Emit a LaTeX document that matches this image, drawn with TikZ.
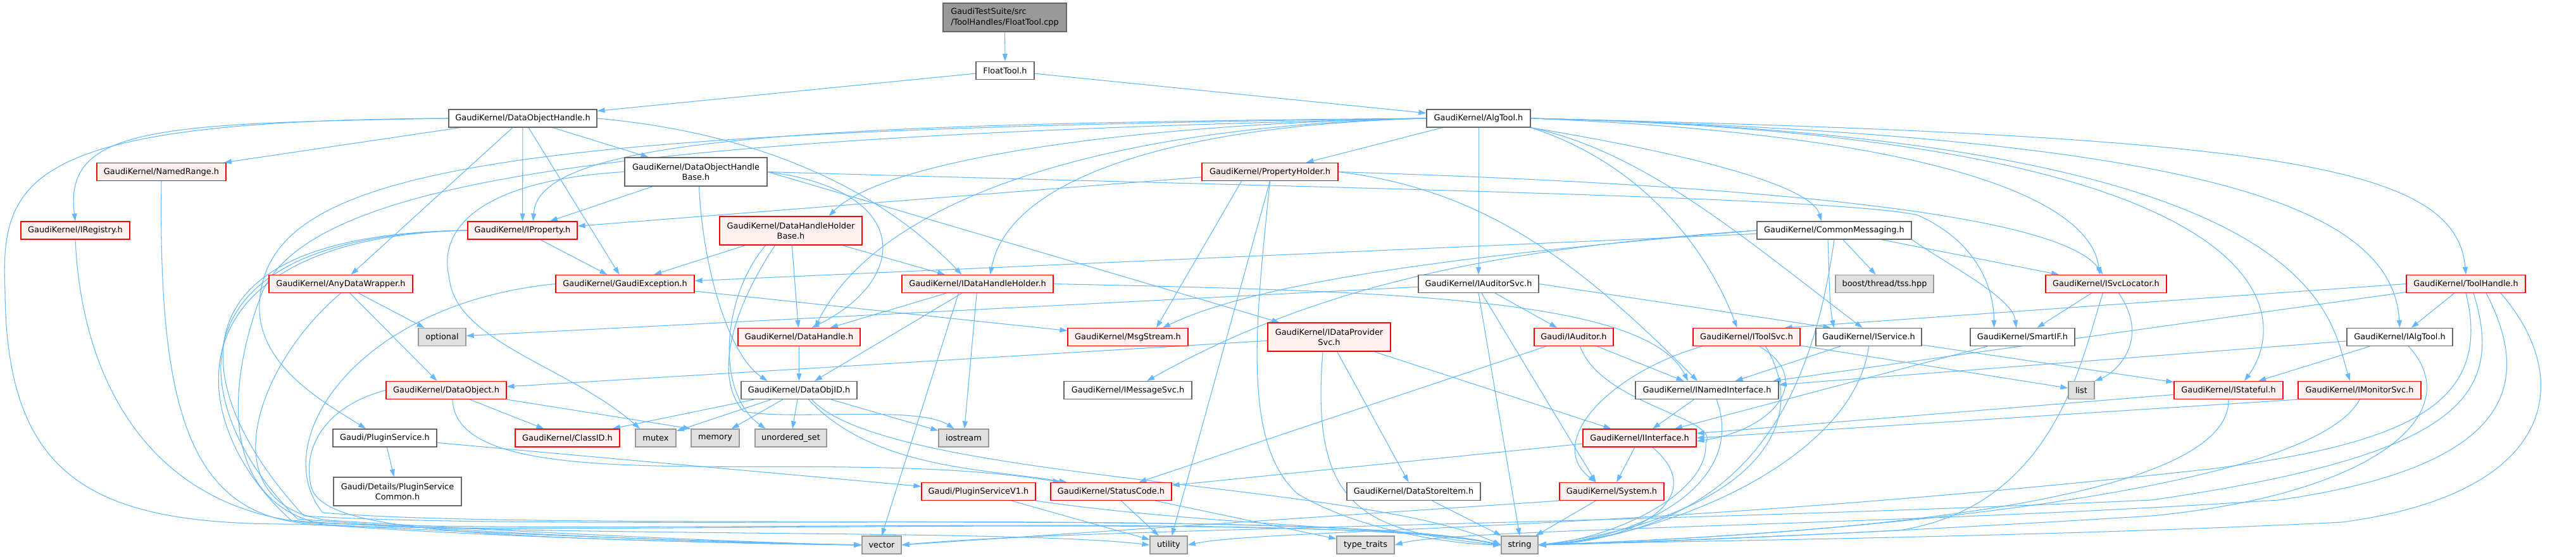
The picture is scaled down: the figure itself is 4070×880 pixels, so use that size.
\documentclass[tikz,border=0pt]{standalone}
\usepackage{fontspec}
\setmainfont{DejaVu Sans}
\usetikzlibrary{arrows.meta}
\definecolor{edgec}{RGB}{99,184,255}
\definecolor{redfill}{RGB}{255,240,240}
\definecolor{grayfill}{RGB}{224,224,224}
\definecolor{grayline}{RGB}{153,153,153}
\definecolor{darkline}{RGB}{102,102,102}
\definecolor{rootfill}{RGB}{153,153,153}
\pgfdeclarelayer{bglayer}
\pgfdeclarelayer{edgelayer}
\pgfsetlayers{bglayer,edgelayer,main}
\begin{document}
\begin{tikzpicture}[x=1pt,y=-1pt,
  box/.style={draw, line width=1.3pt, inner sep=0pt, align=center, font=\fontsize{12.9}{16.6}\selectfont, minimum height=28pt},
  wbox/.style={box, draw=darkline, fill=white},
  rbox/.style={box, draw=red, fill=redfill},
  gbox/.style={box, draw=grayline, fill=grayfill},
  rootbox/.style={box, draw=darkline, fill=rootfill},
  tall/.style={minimum height=45pt},
  e/.style={draw=edgec, line width=1.05pt, -{Triangle[length=12pt,width=8pt]}},
]
\useasboundingbox (0,0) rectangle (4070,880);
\begin{pgfonlayer}{bglayer}
\fill[white] (0,0) rectangle (4070,880);
\end{pgfonlayer}

% ---------------- nodes
\node[rootbox, tall, minimum width=195pt, align=left] (cpp) at (1587.5,27.5) {GaudiTestSuite/src\\/ToolHandles/FloatTool.cpp};
\node[wbox, minimum width=92pt] (floattool) at (1588,111.5) {FloatTool.h};
\node[wbox, minimum width=234pt] (doh) at (826,187) {GaudiKernel/DataObjectHandle.h};
\node[wbox, minimum width=164pt] (algtool) at (2336,187) {GaudiKernel/AlgTool.h};
\node[rbox, minimum width=204pt] (namedrange) at (255,271.5) {GaudiKernel/NamedRange.h};
\node[wbox, tall, minimum width=225pt] (dohb) at (1099.5,271.5) {GaudiKernel/DataObjectHandle\\Base.h};
\node[rbox, minimum width=215pt] (propholder) at (2006.5,271.5) {GaudiKernel/PropertyHolder.h};
\node[rbox, minimum width=172pt] (iregistry) at (119,364) {GaudiKernel/IRegistry.h};
\node[rbox, minimum width=173pt] (iproperty) at (825.5,364) {GaudiKernel/IProperty.h};
\node[rbox, tall, minimum width=225pt] (dhhb) at (1249.5,364.5) {GaudiKernel/DataHandleHolder\\Base.h};
\node[wbox, minimum width=244pt] (commsg) at (2898,364) {GaudiKernel/CommonMessaging.h};
\node[rbox, minimum width=227pt] (anydw) at (538.5,448.5) {GaudiKernel/AnyDataWrapper.h};
\node[rbox, minimum width=219pt] (gexc) at (987.5,448.5) {GaudiKernel/GaudiException.h};
\node[rbox, minimum width=239pt] (idhh) at (1544.5,448.5) {GaudiKernel/IDataHandleHolder.h};
\node[wbox, minimum width=190pt] (iauditorsvc) at (2336,448.5) {GaudiKernel/IAuditorSvc.h};
\node[gbox, minimum width=155pt] (tss) at (2977.5,448.5) {boost/thread/tss.hpp};
\node[rbox, minimum width=191pt] (isvcloc) at (3327.5,448.5) {GaudiKernel/ISvcLocator.h};
\node[rbox, minimum width=188pt] (toolhandle) at (3896,448.5) {GaudiKernel/ToolHandle.h};
\node[gbox, minimum width=75pt] (optional) at (698.5,532.5) {optional};
\node[rbox, minimum width=193pt] (datahandle) at (1262.5,532.5) {GaudiKernel/DataHandle.h};
\node[rbox, minimum width=190pt] (msgstream) at (1782,532.5) {GaudiKernel/MsgStream.h};
\node[rbox, tall, minimum width=194pt] (idps) at (2100,532.5) {GaudiKernel/IDataProvider\\Svc.h};
\node[rbox, minimum width=125pt] (iauditor) at (2486.5,532.5) {Gaudi/IAuditor.h};
\node[rbox, minimum width=169pt] (itoolsvc) at (2759.5,532.5) {GaudiKernel/IToolSvc.h};
\node[wbox, minimum width=167pt] (iservice) at (2952.5,532.5) {GaudiKernel/IService.h};
\node[wbox, minimum width=165pt] (smartif) at (3195.5,532.5) {GaudiKernel/SmartIF.h};
\node[wbox, minimum width=167pt] (ialgtool) at (3791.5,532.5) {GaudiKernel/IAlgTool.h};
\node[rbox, minimum width=190pt] (dataobject) at (705,616.5) {GaudiKernel/DataObject.h};
\node[wbox, minimum width=183pt] (dataobjid) at (1262.5,616.5) {GaudiKernel/DataObjID.h};
\node[wbox, minimum width=202pt] (imsgsvc) at (1782,616.5) {GaudiKernel/IMessageSvc.h};
\node[wbox, minimum width=226pt] (inamed) at (2697,616.5) {GaudiKernel/INamedInterface.h};
\node[gbox, minimum width=41pt] (list) at (3288.5,616.5) {list};
\node[rbox, minimum width=172pt] (istateful) at (3521,616.5) {GaudiKernel/IStateful.h};
\node[rbox, minimum width=194pt] (imonitorsvc) at (3728,616.5) {GaudiKernel/IMonitorSvc.h};
\node[wbox, minimum width=164pt] (pluginsvc) at (608,692) {Gaudi/PluginService.h};
\node[rbox, minimum width=165pt] (classid) at (896.5,692) {GaudiKernel/ClassID.h};
\node[gbox, minimum width=64pt] (mutex) at (1036,692) {mutex};
\node[gbox, minimum width=76pt] (memory) at (1130,692) {memory};
\node[gbox, minimum width=113pt] (unorderedset) at (1249.5,692) {unordered\_set};
\node[gbox, minimum width=79pt] (iostream) at (1522.5,692) {iostream};
\node[rbox, minimum width=179pt] (iinterface) at (2590.5,692) {GaudiKernel/IInterface.h};
\node[wbox, tall, minimum width=202pt] (pscommon) at (628,776.5) {Gaudi/Details/PluginService\\Common.h};
\node[rbox, minimum width=180pt] (psv1) at (1546,776.5) {Gaudi/PluginServiceV1.h};
\node[rbox, minimum width=191pt] (statuscode) at (1755.5,776.5) {GaudiKernel/StatusCode.h};
\node[wbox, minimum width=211pt] (datastoreitem) at (2233.5,776.5) {GaudiKernel/DataStoreItem.h};
\node[rbox, minimum width=165pt] (system) at (2546.5,776.5) {GaudiKernel/System.h};
\node[gbox, minimum width=62pt] (vector) at (1393,861) {vector};
\node[gbox, minimum width=59pt] (utility) at (1846.5,861) {utility};
\node[gbox, minimum width=91pt] (typetraits) at (2157.5,861) {type\_traits};
\node[gbox, minimum width=58pt] (string) at (2401,861) {string};

% ---------------- edges
\begin{pgfonlayer}{edgelayer}
\draw[e] (cpp) -- (floattool);
\draw[e] (floattool) -- (doh);
\draw[e] (floattool) -- (algtool);
% DataObjectHandle.h
\draw[e] (doh) -- (namedrange);
\draw[e] (doh.west) .. controls (250,195) and (100,200) .. (iregistry.north);
\draw[e] (doh) -- (anydw);
\draw[e] (doh) -- (iproperty);
\draw[e] (doh) -- (gexc);
\draw[e] (doh) -- (dohb);
\draw[e] (doh.east) .. controls (1250,215) and (1420,330) .. ([xshift=-25pt]idhh.north);
\draw[e] (doh.west) .. controls (40,190) and (0,280) .. (8,460) .. controls (10,760) and (150,830) .. (470,828) .. controls (900,850) and (2100,805) .. (string.west);
% AlgTool.h
\draw[e] (algtool) -- (propholder);
\draw[e] (algtool) -- (iauditorsvc);
\draw[e] (algtool.south east) .. controls (2650,240) and (2860,290) .. ([xshift=-20pt]commsg.north);
\draw[e] (algtool.east) .. controls (3000,210) and (3300,300) .. ([xshift=-10pt]isvcloc.north);
\draw[e] (algtool.east) .. controls (3600,215) and (3880,260) .. (toolhandle.north);
\draw[e] (algtool.east) .. controls (3500,215) and (3780,330) .. (ialgtool.north);
\draw[e] (algtool.east) .. controls (3620,215) and (3620,500) .. ([xshift=25pt]istateful.north);
\draw[e] (algtool.east) .. controls (3680,215) and (3680,500) .. ([xshift=-15pt]imonitorsvc.north);
\draw[e] (algtool.south east) .. controls (2600,260) and (2700,400) .. ([xshift=-15pt]itoolsvc.north);
\draw[e] (algtool.south east) .. controls (2600,240) and (2760,380) .. ([xshift=-10pt]iservice.north);
\draw[e] (algtool.west) .. controls (1800,195) and (1400,250) .. ([xshift=60pt]dhhb.north);
\draw[e] (algtool.west) .. controls (1800,200) and (1590,300) .. ([xshift=20pt]idhh.north);
\draw[e] (algtool.west) .. controls (1300,195) and (850,215) .. ([xshift=17pt]iproperty.north);
\draw[e] (algtool.west) .. controls (800,205) and (420,260) .. (410,480) .. controls (405,580) and (520,640) .. ([xshift=-30pt]pluginsvc.north);
\draw[e] (algtool.west) .. controls (1700,200) and (1380,330) .. ([xshift=25pt]datahandle.north);
\draw[e] (algtool.west) .. controls (1000,215) and (500,280) .. (415,460) .. controls (360,600) and (340,800) .. (520,830) .. controls (800,850) and (1200,860) .. (vector.west);
% PropertyHolder.h
\draw[e] (propholder) -- (iproperty);
\draw[e] (propholder.east) .. controls (2700,290) and (3250,330) .. ([xshift=-5pt]isvcloc.north);
\draw[e] ([xshift=-45pt]propholder.south) -- ([xshift=45pt]msgstream.north);
\draw[e] (propholder.south) -- ([xshift=5pt]utility.north);
\draw[e] (propholder.south) .. controls (1985,500) and (1960,700) .. (2050,780) .. controls (2150,840) and (2300,860) .. (string.west);
\draw[e] (propholder.east) .. controls (2350,300) and (2500,420) .. ([xshift=-15pt]inamed.north);
% CommonMessaging.h
\draw[e] (commsg) -- (tss);
\draw[e] (commsg) -- (isvcloc);
\draw[e] (commsg.south east) .. controls (3080,420) and (3180,470) .. ([xshift=-10pt]smartif.north);
\draw[e] ([xshift=-10pt]commsg.south) .. controls (2890,430) and (2890,480) .. ([xshift=-55pt]iservice.north);
\draw[e] (commsg) -- (gexc);
\draw[e] (commsg.west) .. controls (2350,400) and (2000,440) .. ([xshift=55pt]msgstream.north);
\draw[e] (commsg.west) .. controls (2400,390) and (2100,440) .. ([xshift=30pt]imsgsvc.north);
\draw[e] (commsg.south) .. controls (2860,650) and (2750,840) .. (string.east);
% IAuditorSvc.h
\draw[e] (iauditorsvc) -- (iauditor);
\draw[e] (iauditorsvc.east) -- ([xshift=-60pt]iservice.north);
\draw[e] (iauditorsvc) -- (optional);
\draw[e] ([xshift=5pt]iauditorsvc.south) -- ([xshift=-25pt]system.north);
\draw[e] (iauditorsvc.south) -- (string.north);
% ISvcLocator.h
\draw[e] (isvcloc) -- (smartif);
\draw[e] ([xshift=20pt]isvcloc.south) .. controls (3400,540) and (3340,590) .. (list.north east);
\draw[e] ([xshift=-5pt]isvcloc.south) .. controls (3290,560) and (3250,800) .. (3000,838) .. controls (2800,848) and (2550,858) .. (string.east);
% ToolHandle.h
\draw[e] (toolhandle) -- (ialgtool);
\draw[e] (toolhandle.west) -- ([xshift=60pt]itoolsvc.north);
\draw[e] (toolhandle) -- (inamed);
\draw[e] ([xshift=55pt]toolhandle.south) .. controls (4070,600) and (4040,780) .. (3700,825) .. controls (3200,850) and (2600,855) .. (string.east);
\draw[e] ([xshift=32pt]toolhandle.south) .. controls (4010,620) and (3950,740) .. (3600,790) .. controls (3000,830) and (2300,835) .. (typetraits.east);
\draw[e] ([xshift=12pt]toolhandle.south) .. controls (3960,630) and (3880,720) .. (3400,790) .. controls (2500,830) and (1700,835) .. (vector.east);
\draw[e] (toolhandle.south) .. controls (3940,640) and (3800,700) .. (3500,740) .. controls (2600,840) and (2000,835) .. (utility.east);
% IAlgTool.h
\draw[e] (ialgtool) -- (istateful);
\draw[e] (ialgtool) -- (inamed);
\draw[e] ([xshift=14pt]ialgtool.south) .. controls (3900,650) and (3760,780) .. (3400,815) .. controls (3000,840) and (2600,858) .. (string.east);
% IStateful, IMonitorSvc, SmartIF, IService
\draw[e] (istateful) -- (iinterface);
\draw[e] (istateful.south) .. controls (3525,820) and (2700,850) .. (string.east);
\draw[e] (imonitorsvc.south west) -- (iinterface.east);
\draw[e] (imonitorsvc.south) .. controls (3650,780) and (2900,845) .. (string.east);
\draw[e] (smartif) -- (iinterface);
\draw[e] (iservice) -- (istateful);
\draw[e] (iservice) -- (inamed);
\draw[e] (iservice.south) .. controls (2930,720) and (2650,845) .. (string.east);
% IToolSvc.h
\draw[e] ([xshift=20pt]itoolsvc.south) .. controls (2870,600) and (2800,680) .. ([yshift=-5pt]iinterface.east);
\draw[e] ([xshift=30pt]itoolsvc.south) .. controls (2870,680) and (2750,820) .. (string.east);
\draw[e] ([xshift=-70pt]itoolsvc.south) .. controls (2540,590) and (2440,700) .. ([xshift=-25pt]system.north);
\draw[e] (itoolsvc) -- (list);
% IAuditor.h
\draw[e] (iauditor) -- (inamed);
\draw[e] (iauditor) -- (statuscode);
\draw[e] ([xshift=10pt]iauditor.south) .. controls (2530,640) and (2720,660) .. (2695,700) .. controls (2700,780) and (2550,850) .. (string.east);
% IDataProviderSvc.h
\draw[e] (idps) -- (dataobject);
\draw[e] (idps) -- (iinterface);
\draw[e] (idps) -- (datastoreitem);
\draw[e] ([xshift=-10pt]idps.south) .. controls (2070,800) and (2150,840) .. (string.west);
% INamedInterface, IInterface
\draw[e] (inamed) -- (iinterface);
\draw[e] ([xshift=15pt]inamed.south) .. controls (2760,760) and (2600,850) .. (string.east);
\draw[e] (iinterface) -- (system);
\draw[e] (iinterface) -- (statuscode);
\draw[e] ([xshift=20pt]iinterface.south) .. controls (2700,780) and (2600,855) .. (string.east);
% System, DataStoreItem, StatusCode, PluginServiceV1
\draw[e] (system) -- (string);
\draw[e] (system.south west) -- (vector.east);
\draw[e] (datastoreitem) -- (string);
\draw[e] (statuscode) -- (utility);
\draw[e] (statuscode) -- (typetraits);
\draw[e] (psv1) -- (utility);
\draw[e] (psv1.south east) .. controls (1900,830) and (2250,835) .. (string.west);
% PluginService.h
\draw[e] (pluginsvc) -- (pscommon);
\draw[e] (pluginsvc) -- (psv1);
% DataObject.h
\draw[e] (dataobject) -- (classid);
\draw[e] (dataobject.south east) -- (memory.north west);
\draw[e] ([xshift=10pt]dataobject.south) .. controls (720,800) and (1300,700) .. ([xshift=-80pt]statuscode.north);
\draw[e] (dataobject.west) .. controls (520,640) and (480,700) .. (490,760) .. controls (495,830) and (650,850) .. (vector.west);
% DataObjID.h
\draw[e] (dataobjid) -- (classid);
\draw[e] (dataobjid) -- (mutex);
\draw[e] (dataobjid) -- (memory);
\draw[e] (dataobjid) -- (unorderedset);
\draw[e] (dataobjid) -- (iostream);
\draw[e] ([xshift=20pt]dataobjid.south) .. controls (1400,760) and (2150,760) .. (string.west);
\draw[e] ([xshift=15pt]dataobjid.south) .. controls (1380,740) and (1550,740) .. ([xshift=-70pt]statuscode.north);
% DataHandle.h
\draw[e] (datahandle) -- (dataobjid);
% IDataHandleHolder.h
\draw[e] (idhh) -- (datahandle);
\draw[e] (idhh) -- (dataobjid);
\draw[e] ([xshift=-30pt]idhh.south) -- (vector.north);
\draw[e] (idhh) -- (iostream);
\draw[e] (idhh.east) .. controls (2200,460) and (2600,470) .. ([xshift=-30pt]inamed.north);
% DataHandleHolderBase.h
\draw[e] (dhhb) -- (gexc);
\draw[e] (dhhb) -- (idhh);
\draw[e] (dhhb) -- (datahandle);
\draw[e] ([xshift=-40pt]dhhb.south) .. controls (1140,470) and (1130,620) .. ([xshift=-40pt]unorderedset.north);
\draw[e] ([xshift=-25pt]dhhb.south) .. controls (1150,500) and (1130,600) .. (1175,650) .. controls (1250,665) and (1450,640) .. ([xshift=-15pt]iostream.north);
% DataObjectHandleBase.h
\draw[e] (dohb) -- (iproperty);
\draw[e] (dohb.east) .. controls (1440,300) and (1440,440) .. ([xshift=20pt]datahandle.north);
\draw[e] (dohb.east) -- (idps);
\draw[e] ([xshift=5pt]dohb.south) .. controls (1110,420) and (1150,560) .. ([xshift=-50pt]dataobjid.north);
\draw[e] (dohb.west) .. controls (760,285) and (690,360) .. (710,440) .. controls (720,540) and (900,580) .. ([xshift=-25pt]mutex.north);
\draw[e] (dohb.east) .. controls (2000,295) and (2900,310) .. (3030,340) .. controls (3120,380) and (3150,450) .. ([xshift=-45pt]smartif.north);
% IProperty.h
\draw[e] (iproperty) -- (gexc);
\draw[e] (iproperty.west) .. controls (250,370) and (300,620) .. (480,815) .. controls (900,842) and (2100,800) .. (string.west);
\draw[e] (iproperty.west) .. controls (260,372) and (290,640) .. (470,820) .. controls (800,845) and (1150,858) .. (vector.west);
\draw[e] (iproperty.west) .. controls (270,375) and (280,660) .. (460,822) .. controls (800,850) and (1600,835) .. (utility.west);
% GaudiException.h
\draw[e] (gexc) -- (msgstream);
\draw[e] (gexc.west) .. controls (560,480) and (420,700) .. (510,810) .. controls (900,842) and (2100,800) .. (string.west);
% AnyDataWrapper, NamedRange, IRegistry
\draw[e] (anydw) -- (dataobject);
\draw[e] (anydw) -- (optional);
\draw[e] (anydw.south) .. controls (400,580) and (330,800) .. (520,822) .. controls (800,840) and (1200,858) .. (vector.west);
\draw[e] (namedrange.south) .. controls (250,650) and (300,820) .. (500,828) .. controls (800,845) and (1200,858) .. (vector.west);
\draw[e] (iregistry.south) .. controls (130,620) and (250,800) .. (480,825) .. controls (900,848) and (2100,805) .. (string.west);
\end{pgfonlayer}
\end{tikzpicture}
\end{document}
